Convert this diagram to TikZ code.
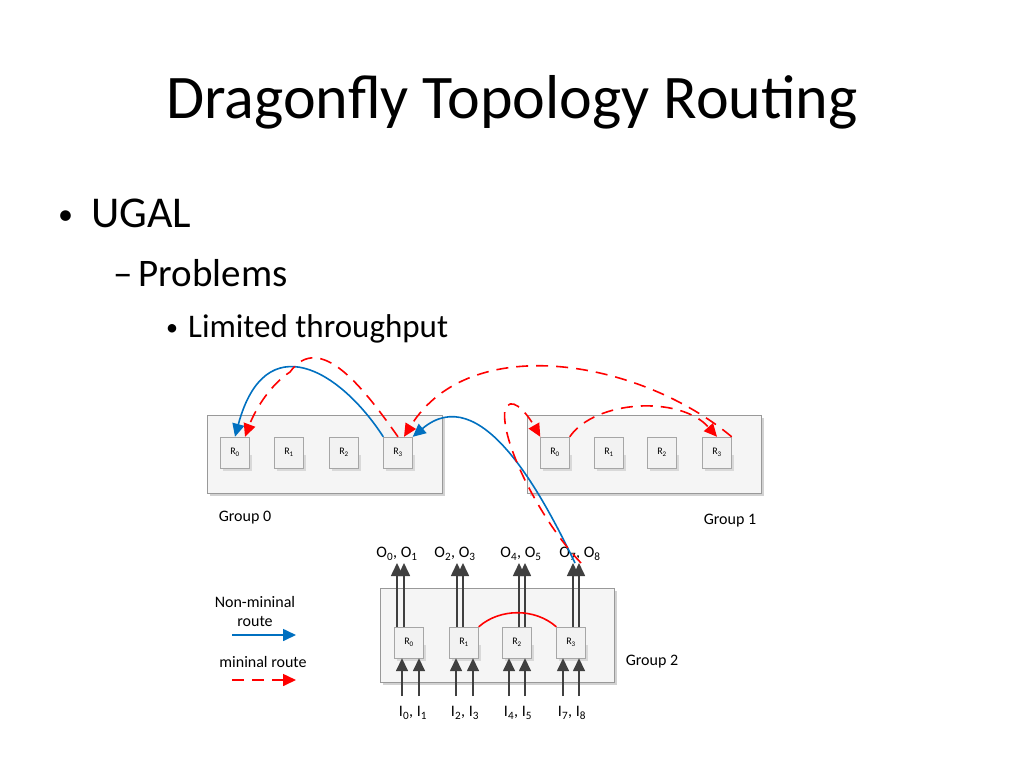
\documentclass[tikz,border=0pt]{standalone}
\usepackage{fontspec}
\setmainfont{Carlito}
\usetikzlibrary{arrows.meta}
\definecolor{bl}{RGB}{0,112,192}
\definecolor{rd}{RGB}{255,0,0}
\begin{document}
\begin{tikzpicture}[x=1pt,y=-1pt,
  grp/.style={draw=gray!80,fill=gray!8},
  rt/.style={draw=gray!70,fill=gray!10,minimum width=29pt,minimum height=31pt,inner sep=0pt,font=\fontsize{10}{12}\selectfont},
  lbl/.style={font=\fontsize{16}{19}\selectfont,inner sep=0pt},
  blu/.style={draw=bl,line width=1.6pt,-{Triangle[length=13pt,width=12pt]}},
  red/.style={draw=rd,line width=1.6pt,dash pattern=on 12pt off 8pt,-{Triangle[length=13pt,width=12pt]}},
  io/.style={draw=black!75,line width=1.6pt,-{Triangle[length=13pt,width=12pt]}}]
\useasboundingbox (0,0) rectangle (1024,768);
\node[anchor=base,font=\fontsize{62}{68}\selectfont] (title) at (512,118) {Dragonfly Topology Routing};
\node[anchor=base west,font=\fontsize{44}{48}\selectfont,inner sep=0pt] (b1) at (58,227) {\raisebox{3pt}{\fontsize{30}{30}\selectfont•}\hspace{18pt}UGAL};
\node[anchor=base west,font=\fontsize{39}{44}\selectfont,inner sep=0pt] (b2) at (113,286) {–\hspace{6pt}Problems};
\node[anchor=base west,font=\fontsize{33}{38}\selectfont,inner sep=0pt] (b3) at (166,337) {\raisebox{2pt}{\fontsize{24}{24}\selectfont•}\hspace{10pt}Limited throughput};
% groups
\fill[gray!35] (210,418) rectangle (445,496);
\draw[grp] (207,415) rectangle (442,493);
\fill[gray!35] (530,418) rectangle (764,496);
\draw[grp] (527,415) rectangle (761,493);
\fill[gray!35] (383,591) rectangle (617,685);
\draw[grp] (380,588) rectangle (614,682);
\foreach \n/\x in {0/235,1/289,2/344,3/398}{
  \fill[gray!30] (\x-12.5,455) rectangle (\x+16.5,471);
  \node[rt] (a\n) at (\x,452.5) {R\textsubscript{\n}};}
\foreach \n/\x in {0/555,1/609,2/662,3/717}{
  \fill[gray!30] (\x-12.5,455) rectangle (\x+16.5,471);
  \node[rt] (b\n) at (\x,452.5) {R\textsubscript{\n}};}
\foreach \n/\x in {0/409,1/464,2/517,3/571}{
  \fill[gray!30] (\x-12.5,645) rectangle (\x+16.5,661);
  \node[rt] (c\n) at (\x,642.5) {R\textsubscript{\n}};}
\node[lbl] (g0) at (245,518) {Group 0};
\node[lbl] (g1) at (730,521) {Group 1};
\node[lbl] (g2) at (652,662) {Group 2};
% io arrows
\foreach \n/\x/\y/\u/\v in {0/397/404/402/419,1/457/463/456/473,2/519/525/509/525,3/573/579/563/579}{
  \coordinate (ot\n a) at (\x,563); \coordinate (ot\n b) at (\y,563);
  \coordinate (in\n a) at (\u,696); \coordinate (in\n b) at (\v,696);
  \draw[io] (c\n.north -| ot\n a) -- (ot\n a);
  \draw[io] (c\n.north -| ot\n b) -- (ot\n b);
  \draw[io] (in\n a) -- (c\n.south -| in\n a);
  \draw[io] (in\n b) -- (c\n.south -| in\n b);}
\node[lbl] (o0) at (397,554) {O\textsubscript{0}, O\textsubscript{1}};
\node[lbl] (o1) at (455,554) {O\textsubscript{2}, O\textsubscript{3}};
\node[lbl] (o2) at (521,554) {O\textsubscript{4}, O\textsubscript{5}};
\node[lbl] (o3) at (580,554) {O\textsubscript{7}, O\textsubscript{8}};
\node[lbl] (i0) at (413,713) {I\textsubscript{0}, I\textsubscript{1}};
\node[lbl] (i1) at (465,713) {I\textsubscript{2}, I\textsubscript{3}};
\node[lbl] (i2) at (518,713) {I\textsubscript{4}, I\textsubscript{5}};
\node[lbl] (i3) at (572,713) {I\textsubscript{7}, I\textsubscript{8}};
% red arc group2
\draw[rd,line width=1.6pt] (c1.north east) .. controls (500,608) and (535,608) .. (c3.north west);
% legend
\node[lbl,align=center] (ln) at (255,611) {Non-mininal\\route};
\coordinate (l1a) at (232,635); \coordinate (l1b) at (296,635);
\draw[blu] (l1a) -- (l1b);
\node[lbl] (lm) at (263,662) {mininal route};
\coordinate (l2a) at (232,680); \coordinate (l2b) at (296,680);
\draw[red] (l2a) -- (l2b);
% routes
\draw[blu] (a3.north west) .. controls (340,370) and (265,325) .. (a0.north);
\draw[red] (a3.north) .. controls (365,390) and (320,330) .. (290,372) .. controls (270,385) and (255,410) .. ([xshift=10pt]a0.north);
\draw[red] (b3.north east) .. controls (640,360) and (470,330) .. ([xshift=6pt]a3.north);
\draw[blu] ([xshift=2pt]ot3a) .. controls (540,490) and (480,380) .. (a3.north east);
\draw[red] ([xshift=2pt]ot3b) .. controls (540,520) and (500,440) .. (505,410) .. controls (510,395) and (525,410) .. (b0.north west);
\draw[red] (b0.north east) .. controls (595,400) and (680,395) .. (b3.north);
\end{tikzpicture}
\end{document}
